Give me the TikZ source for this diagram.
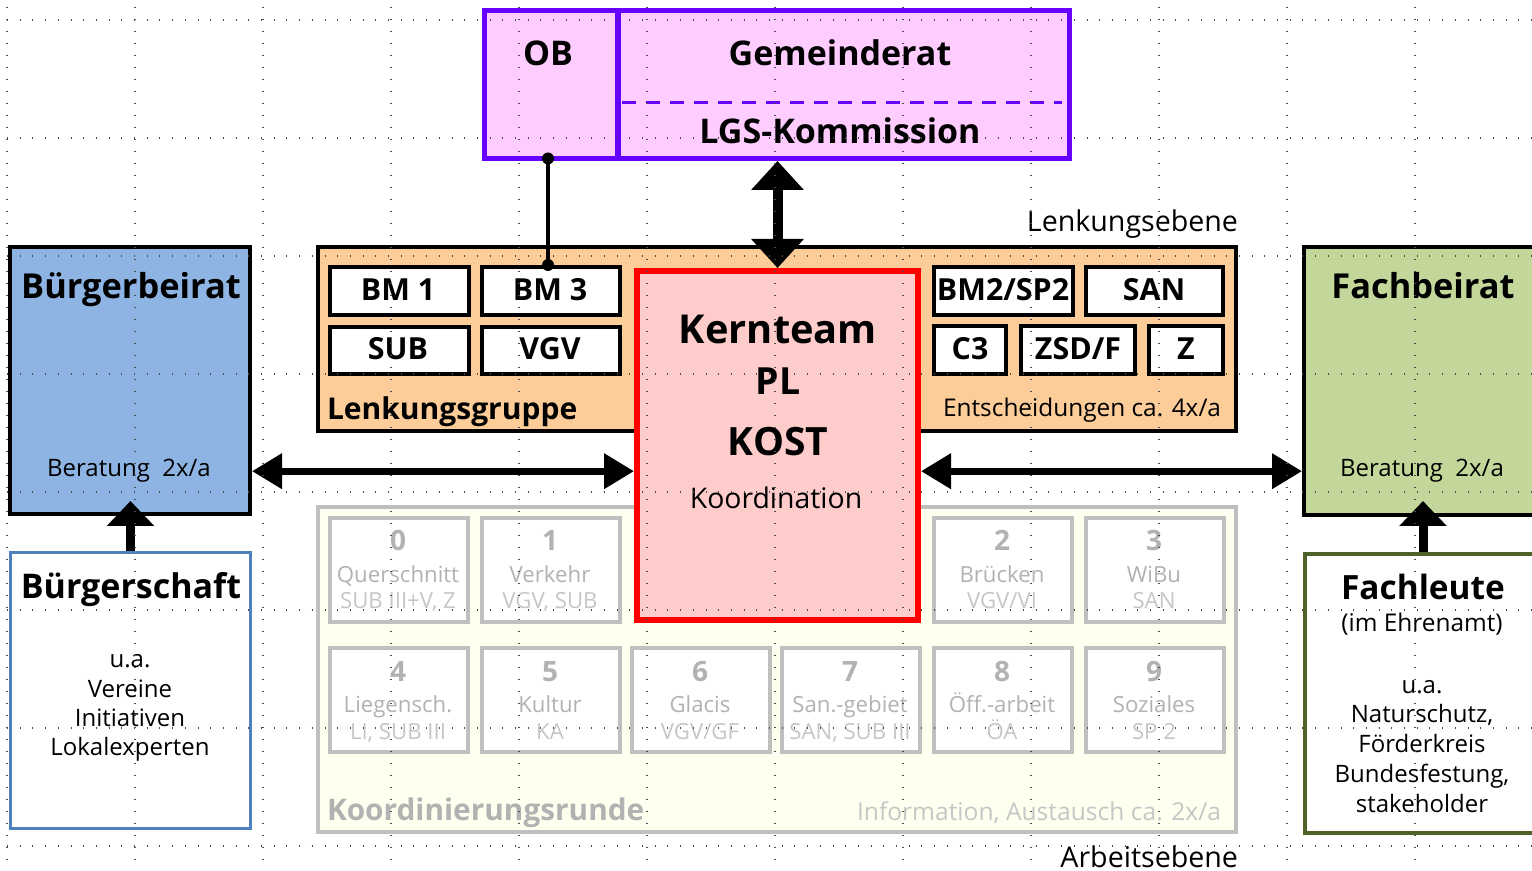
\documentclass[tikz,border=0pt]{standalone}
\usepackage{fontspec}
\setmainfont{Open Sans}
\usetikzlibrary{arrows.meta,fit}
\definecolor{purp}{RGB}{102,0,255}
\definecolor{pinkf}{RGB}{255,204,255}
\definecolor{orangef}{RGB}{252,204,153}
\definecolor{kernf}{RGB}{255,204,204}
\definecolor{kernred}{RGB}{255,0,0}
\definecolor{bluef}{RGB}{141,180,226}
\definecolor{greenf}{RGB}{196,215,155}
\definecolor{bsblue}{RGB}{79,129,189}
\definecolor{flgreen}{RGB}{79,98,40}
\definecolor{koordf}{RGB}{255,255,240}
\definecolor{koordline}{RGB}{191,191,191}
\definecolor{graytxt}{RGB}{178,178,178}
\definecolor{graytxtl}{RGB}{198,198,198}
\newcommand\fsz[1]{\fontsize{#1}{#1}\selectfont}
\begin{document}
\begin{tikzpicture}[x=0.5pt,y=-0.5pt,
  box/.style={draw, inner sep=0pt},
  txt/.style={inner sep=0pt, outer sep=0pt, align=center},
  lgbox/.style={box, fill=white, line width=2pt},
  lgtxt/.style={txt, anchor=base, font=\fsz{15.2}\bfseries},
  kbox/.style={box, draw=koordline, fill=white, line width=2.2pt},
  knum/.style={txt, anchor=base, text=graytxt, font=\fsz{14}\bfseries},
  kname/.style={txt, anchor=base, text=graytxt, font=\fsz{11.1}},
  kcode/.style={txt, anchor=base, text=graytxtl, font=\fsz{11.1}},
  gridv/.style={line width=0.6pt, black!70, dash pattern=on 0.5pt off 5.5pt},
  gridh/.style={line width=0.6pt, black!70, dash pattern=on 0.5pt off 5.85pt},
  dblarrow/.style={line width=3.5pt, {Triangle[width=17pt,length=15pt]}-{Triangle[width=17pt,length=15pt]}},
  uparrow/.style={line width=4.5pt, -{Triangle[width=23pt,length=12.5pt]}},
  vdbl/.style={line width=5pt, {Triangle[width=25.5pt,length=14.5pt]}-{Triangle[width=25.5pt,length=14.5pt]}},
  conn/.style={line width=1.6pt},
]
\useasboundingbox (0,0) rectangle (1532,871);
\fill[white] (0,0) rectangle (1532,871);

% ---- top box
\node[box, draw=purp, fill=pinkf, line width=2.5pt, fit={(484.5,10.5)(1069.5,158.5)}] (top) {};
\node[txt, fit={(482,10.5)(614,158.5)}] (ob) {};
\draw[purp, line width=2.6pt] (618,10.5) -- (618,158.5);
\draw[purp, line width=1.5pt, dash pattern=on 7pt off 5pt] (622,103) -- (1062,103);
\node[txt, anchor=base, font=\fsz{17}\bfseries] (obt) at (548,66) {OB};
\node[txt, anchor=base, font=\fsz{17}\bfseries] (grt) at (840,66) {Gemeinderat};
\node[txt, anchor=base, font=\fsz{17}\bfseries] (lgst) at (840,144) {LGS-Kommission};

% ---- Lenkungsgruppe
\node[txt, anchor=base east, font=\fsz{14.3}] (lebene) at (1238,232) {Lenkungsebene};
\node[box, fill=orangef, line width=2pt, fit={(318,247)(1236,431)}] (lg) {};
\node[lgbox, fit={(330,267)(469,315)}] (bm1) {};
\node[lgbox, fit={(482,267)(620,315)}] (bm3) {};
\node[lgbox, fit={(330,327)(469,374)}] (sub) {};
\node[lgbox, fit={(482,327)(620,374)}] (vgv) {};
\node[lgbox, fit={(934,267)(1073,315)}] (bm2) {};
\node[lgbox, fit={(1086,267)(1223,315)}] (san) {};
\node[lgbox, fit={(934,326)(1006,374)}] (c3) {};
\node[lgbox, fit={(1021,326)(1135,374)}] (zsd) {};
\node[lgbox, fit={(1149,326)(1223,374)}] (z) {};
\node[lgtxt] (bm1t) at (398,301) {BM 1};
\node[lgtxt] (bm3t) at (550,301) {BM 3};
\node[lgtxt] (subt) at (398,360) {SUB};
\node[lgtxt] (vgvt) at (550,360) {VGV};
\node[lgtxt] (bm2t) at (1003,301) {BM2/SP2};
\node[lgtxt] (sant) at (1154,301) {SAN};
\node[lgtxt] (c3t) at (970,360) {C3};
\node[lgtxt] (zsdt) at (1078,360) {ZSD/F};
\node[lgtxt] (zt) at (1186,360) {Z};
\node[txt, anchor=base west, font=\fsz{15}\bfseries] (lgt) at (327,420) {Lenkungsgruppe};
\node[txt, anchor=base east, font=\fsz{12.2}] (lgf) at (1221,417) {Entscheidungen ca. 4x/a};

% ---- Koordinierungsrunde
\node[box, draw=koordline, fill=koordf, line width=2pt, fit={(318,507)(1236,832)}] (kr) {};
\foreach \n/\cx/\ty/\nm/\cd in {0/399/517/Querschnitt/{SUB III+V, Z},1/551/517/Verkehr/{VGV, SUB},2/1003/517/Brücken/{VGV/VI},3/1155/517/WiBu/SAN,4/399/647/Liegensch./{LI, SUB III},5/551/647/Kultur/KA,6/701/647/Glacis/{VGV/GF},7/851/647/San.-gebiet/{SAN, SUB III},8/1003/647/Öff.-arbeit/ÖA,9/1155/647/Soziales/{SP 2}}{
  \node[kbox, fit={(\cx-69,\ty+1)(\cx+69,\ty+105)}] (k\n) {};
  \node[knum] (kn\n) at (\cx-1,\ty+34) {\n};
  \node[kname] (km\n) at (\cx-1,\ty+65) {\nm};
  \node[kcode] (kc\n) at (\cx-1,\ty+92) {\cd};
}
\node[txt, anchor=base west, text=graytxt, font=\fsz{14.9}\bfseries] (krt) at (327,820) {Koordinierungsrunde};
\node[txt, anchor=base east, text=graytxtl, font=\fsz{12.3}] (krf) at (1221,820) {Information, Austausch ca. 2x/a};
\node[txt, anchor=base east, font=\fsz{14.3}] (aebene) at (1238,867) {Arbeitsebene};

% ---- Kernteam
\node[box, draw=kernred, fill=kernf, line width=3pt, fit={(637,271)(918,620)}] (kt) {};
\node[txt, anchor=base, font=\fsz{19.9}\bfseries] (ktt) at (778,344) {Kernteam};
\node[txt, anchor=base, font=\fsz{18.7}\bfseries] (pl) at (778,395) {PL};
\node[txt, anchor=base, font=\fsz{19.5}\bfseries] (kost) at (778,456) {KOST};
\node[txt, anchor=base, font=\fsz{14.2}] (koord) at (776,509) {Koordination};

% ---- Buergerbeirat / Buergerschaft
\node[box, fill=bluef, line width=2pt, fit={(10,247)(250,514)}] (bb) {};
\node[txt, anchor=base, font=\fsz{17.2}\bfseries] (bbt) at (131,299) {Bürgerbeirat};
\node[txt, anchor=base, font=\fsz{12}] (bbr) at (129,477) {Beratung\ \ 2x/a};
\node[box, draw=bsblue, fill=white, line width=1.5pt, fit={(10.5,552.5)(250.5,828.5)}] (bs) {};
\node[txt, anchor=base, font=\fsz{17}\bfseries] (bst) at (131,598) {Bürgerschaft};
\node[txt, anchor=base, font=\fsz{12}] (bs1) at (130,667) {u.a.};
\node[txt, anchor=base, font=\fsz{12}] (bs2) at (130,697) {Vereine};
\node[txt, anchor=base, font=\fsz{12}] (bs3) at (130,726) {Initiativen};
\node[txt, anchor=base, font=\fsz{12}] (bs4) at (130,755) {Lokalexperten};

% ---- Fachbeirat / Fachleute
\node[box, fill=greenf, line width=2pt, fit={(1304,247)(1542,515)}] (fb) {};
\node[txt, anchor=base, font=\fsz{17.2}\bfseries] (fbt) at (1423,299) {Fachbeirat};
\node[txt, anchor=base, font=\fsz{12}] (fbr) at (1422,477) {Beratung\ \ 2x/a};
\node[box, draw=flgreen, fill=white, line width=2pt, fit={(1305,554)(1541,833)}] (fl) {};
\node[txt, anchor=base, font=\fsz{16.7}\bfseries] (flt) at (1423,599) {Fachleute};
\node[txt, anchor=base, font=\fsz{12.2}] (fl0) at (1422,632) {(im Ehrenamt)};
\node[txt, anchor=base, font=\fsz{12}] (fl1) at (1422,693) {u.a.};
\node[txt, anchor=base, font=\fsz{12}] (fl2) at (1422,722) {Naturschutz,};
\node[txt, anchor=base, font=\fsz{12}] (fl3) at (1422,752) {Förderkreis};
\node[txt, anchor=base, font=\fsz{12}] (fl4) at (1422,782) {Bundesfestung,};
\node[txt, anchor=base, font=\fsz{12}] (fl5) at (1422,812) {stakeholder};

% ---- connectors
\draw[conn] (ob.south) -- (ob.south |- bm3.north);
\fill (ob.south) circle (3pt);
\fill (ob.south |- bm3.north) circle (3pt);
\draw[vdbl] (kt.north |- top.south) -- (kt.north);
\draw[dblarrow] (bb.east |- bbr.center) -- (kt.west |- bbr.center);
\draw[dblarrow] (kt.east |- fbr.center) -- (fb.west |- fbr.center);
\coordinate (bbtip) at (131,501);
\coordinate (fbtip) at (1423,501);
\draw[uparrow] (bs.north) -- (bs.north |- bbtip);
\draw[uparrow] (fl.north) -- (fl.north |- fbtip);

% ---- dotted grid
\foreach \gx in {7,135,...,1415}{\draw[gridv] (\gx,7) -- (\gx,871);}
\foreach \gy in {20,138,...,846}{\draw[gridh] (7,\gy) -- (1532,\gy);}
\end{tikzpicture}
\end{document}
